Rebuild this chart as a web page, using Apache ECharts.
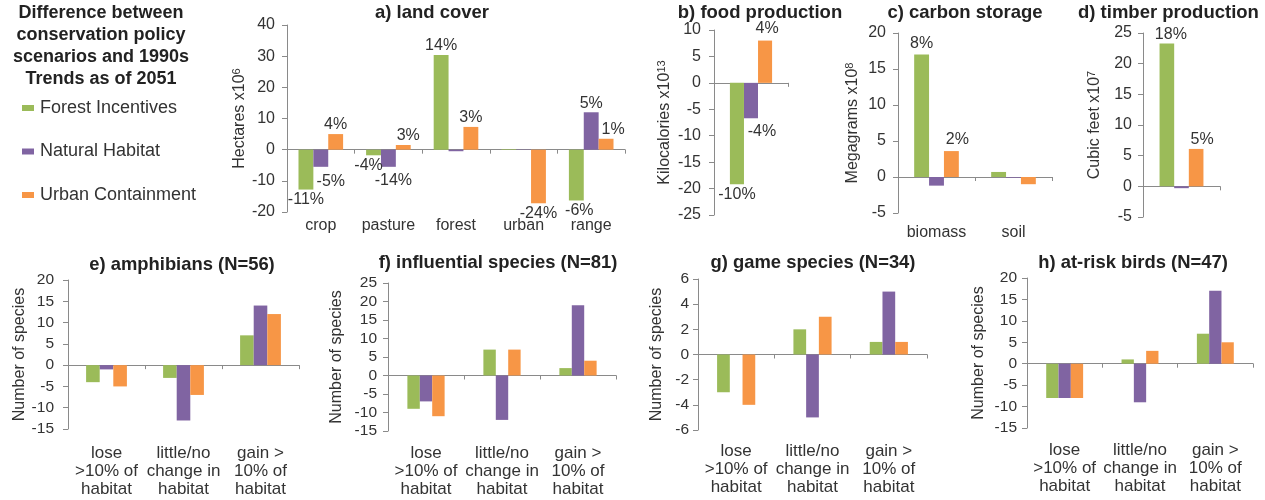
<!DOCTYPE html>
<html><head><meta charset="utf-8">
<script src="https://cdn.jsdelivr.net/npm/echarts/dist/echarts.min.js"></script>
<style>html,body{margin:0;padding:0;background:#fff}#c{width:1265px;height:500px}</style>
</head><body><div id="c"></div>
<script>
// ---------- data ----------
const scenarios = ['Forest Incentives', 'Natural Habitat', 'Urban Containment'];

const landCats = ['crop', 'pasture', 'forest', 'urban', 'range'];
const landFI = [-12.8, -1.8, 30.4, 0.2, -16.3];
const landNH = [-5.5, -5.5, -0.5, 0.1, 12.0];
const landUC = [5.0, 1.5, 7.3, -17.2, 3.5];
const landFIpct = ['-11%', '-4%', '14%', '', '-6%'];
const landNHpct = ['-5%', '-14%', '', '', '5%'];
const landUCpct = ['4%', '3%', '3%', '-24%', '1%'];

const foodCats = [''];
const foodFI = [-19.2];
const foodNH = [-6.7];
const foodUC = [8.0];
const foodFIpct = ['-10%'];
const foodNHpct = ['-4%'];
const foodUCpct = ['4%'];

const carbonCats = ['biomass', 'soil'];
const carbonFI = [17.0, 0.7];
const carbonNH = [-1.2, -0.1];
const carbonUC = [3.6, -1.0];
const carbonFIpct = ['8%', ''];
const carbonNHpct = ['', ''];
const carbonUCpct = ['2%', ''];

const timberCats = [''];
const timberFI = [23.3];
const timberNH = [-0.3];
const timberUC = [6.1];
const timberFIpct = ['18%'];
const timberNHpct = [''];
const timberUCpct = ['5%'];

const habitatCats = ['lose\n>10% of\nhabitat', 'little/no\nchange in\nhabitat', 'gain >\n10% of\nhabitat'];
const amphFI = [-4, -3, 7];
const amphNH = [-1, -13, 14];
const amphUC = [-5, -7, 12];
const inflFI = [-9, 7, 2];
const inflNH = [-7, -12, 19];
const inflUC = [-11, 7, 4];
const gameFI = [-3, 2, 1];
const gameNH = [0, -5, 5];
const gameUC = [-4, 3, 1];
const birdFI = [-8, 1, 7];
const birdNH = [-8, -9, 17];
const birdUC = [-8, 3, 5];

const legendTitle = 'Difference between\nconservation policy\nscenarios and 1990s\nTrends as of 2051';

const panels = [
  {key: 'a', title: 'a) land cover', cats: landCats, vals: [landFI, landNH, landUC], pct: [landFIpct, landNHpct, landUCpct], yName: ['Hectares x10', '6'], min: -20, max: 40, step: 10},
  {key: 'b', title: 'b) food production', cats: foodCats, vals: [foodFI, foodNH, foodUC], pct: [foodFIpct, foodNHpct, foodUCpct], yName: ['Kilocalories x10', '13'], min: -25, max: 10, step: 5},
  {key: 'c', title: 'c) carbon storage', cats: carbonCats, vals: [carbonFI, carbonNH, carbonUC], pct: [carbonFIpct, carbonNHpct, carbonUCpct], yName: ['Megagrams x10', '8'], min: -5, max: 20, step: 5},
  {key: 'd', title: 'd) timber production', cats: timberCats, vals: [timberFI, timberNH, timberUC], pct: [timberFIpct, timberNHpct, timberUCpct], yName: ['Cubic feet x10', '7'], min: -5, max: 25, step: 5},
  {key: 'e', title: 'e) amphibians (N=56)', cats: habitatCats, vals: [amphFI, amphNH, amphUC], pct: null, yName: ['Number of species', ''], min: -15, max: 20, step: 5},
  {key: 'f', title: 'f) influential species (N=81)', cats: habitatCats, vals: [inflFI, inflNH, inflUC], pct: null, yName: ['Number of species', ''], min: -15, max: 25, step: 5},
  {key: 'g', title: 'g) game species (N=34)', cats: habitatCats, vals: [gameFI, gameNH, gameUC], pct: null, yName: ['Number of species', ''], min: -6, max: 6, step: 2},
  {key: 'h', title: 'h) at-risk birds (N=47)', cats: habitatCats, vals: [birdFI, birdNH, birdUC], pct: null, yName: ['Number of species', ''], min: -15, max: 20, step: 5}
];

// ---------- layout / style ----------
const colors = ['#9BBB59', '#8064A2', '#F79646'];
const FONT = '"Liberation Sans", Arial, sans-serif';
const AX = '#8a8a8a';
const TXT = '#333';

const layout = {
  a: {grid: {left: 287, top: 25, width: 338, height: 187}, tx: 432, ty: 3, ta: 'center', ts: 18.5, nameGap: 38, catMargin: 6, catSize: 16, catLH: 16, gap: '34%', labSize: 16, labMargin: 12},
  b: {grid: {left: 714, top: 30, width: 74, height: 185}, tx: 760, ty: 3, ta: 'center', ts: 18.5, nameGap: 40, catMargin: 6, catSize: 16, catLH: 16, gap: '43%', labSize: 16, labMargin: 13},
  c: {grid: {left: 898, top: 33, width: 154, height: 180}, tx: 965, ty: 3, ta: 'center', ts: 18.5, nameGap: 36, catMargin: 12, catSize: 16, catLH: 16, gap: '42%', labSize: 16, labMargin: 12},
  d: {grid: {left: 1143, top: 33, width: 77, height: 184}, tx: 1078, ty: 3, ta: 'left', ts: 18.5, nameGap: 39, catMargin: 6, catSize: 16, catLH: 16, gap: '43%', labSize: 16, labMargin: 11},
  e: {grid: {left: 68, top: 280, width: 231, height: 149}, tx: 182, ty: 256, ta: 'center', ts: 18.4, nameGap: 37, catMargin: 15, catSize: 17, catLH: 18, gap: '47%', labSize: 15.5, labMargin: 14},
  f: {grid: {left: 388, top: 283, width: 228, height: 148}, tx: 498, ty: 254, ta: 'center', ts: 18.4, nameGap: 42, catMargin: 13, catSize: 17, catLH: 18, gap: '51%', labSize: 15.5, labMargin: 11},
  g: {grid: {left: 698, top: 279, width: 229, height: 151}, tx: 813, ty: 254, ta: 'center', ts: 18.4, nameGap: 32, catMargin: 12, catSize: 17, catLH: 18, gap: '50%', labSize: 15.5, labMargin: 9},
  h: {grid: {left: 1027, top: 278, width: 226, height: 150}, tx: 1133, ty: 254, ta: 'center', ts: 18.4, nameGap: 39, catMargin: 13, catSize: 17, catLH: 18, gap: '51%', labSize: 15.5, labMargin: 10}
};

// label nudges: panel-series-index -> [dx, dy]
const labelOffsets = {
  'a-1-0': [10, 5], 'a-0-1': [-5, 0], 'a-1-1': [5, 4], 'a-2-1': [5, 0], 'a-2-4': [7, 0], 'a-0-4': [3, 0],
  'b-1-0': [11, 3], 'b-2-0': [2, -3],
  'c-0-0': [0, -2], 'c-2-0': [6, -2],
  'd-0-0': [4, 0], 'd-2-0': [6, 0]
};

const option = {
  animation: false,
  backgroundColor: '#fff',
  textStyle: {fontFamily: FONT},
  title: [{
    text: legendTitle, left: 101, top: 2, textAlign: 'center', padding: 0,
    textStyle: {fontSize: 18, fontWeight: 'bold', lineHeight: 22, color: '#222', fontFamily: FONT}
  }],
  legend: {
    orient: 'vertical', left: 17, top: 94, itemWidth: 12, itemHeight: 6, itemGap: 25.5,
    icon: 'rect', data: scenarios, selectedMode: false,
    textStyle: {fontSize: 18, color: TXT, fontFamily: FONT, padding: [0, 0, 0, 1]}
  },
  grid: [], xAxis: [], yAxis: [], series: []
};

panels.forEach((p, i) => {
  const L = layout[p.key];
  option.title.push({
    text: p.title, left: L.tx, top: L.ty, textAlign: L.ta, padding: 0,
    textStyle: {fontSize: L.ts, fontWeight: 'bold', color: '#222', fontFamily: FONT}
  });
  option.grid.push(Object.assign({containLabel: false}, L.grid));
  option.xAxis.push({
    type: 'category', gridIndex: i, data: p.cats, position: 'top',
    axisLine: {show: true, onZero: true, lineStyle: {color: AX, width: 1}},
    axisTick: {show: true, inside: true, length: 4, lineStyle: {color: AX}},
    axisLabel: {show: false}, splitLine: {show: false}
  });
  option.xAxis.push({
    type: 'category', gridIndex: i, data: p.cats, position: 'bottom',
    axisLine: {show: false, onZero: false}, axisTick: {show: false},
    axisLabel: {show: true, interval: 0, margin: L.catMargin, fontSize: L.catSize, lineHeight: L.catLH, color: TXT, fontFamily: FONT},
    splitLine: {show: false}
  });
  const nm = p.yName[1] ? `{n|${p.yName[0]}}{s|${p.yName[1]}}` : `{n|${p.yName[0]}}`;
  option.yAxis.push({
    type: 'value', gridIndex: i, min: p.min, max: p.max, interval: p.step,
    name: nm, nameLocation: 'middle', nameGap: L.nameGap,
    nameTextStyle: {
      fontSize: 16, color: TXT, fontFamily: FONT,
      rich: {
        n: {fontSize: 16, lineHeight: 18, color: TXT, fontFamily: FONT},
        s: {fontSize: 11, lineHeight: 11, verticalAlign: 'top', color: TXT, fontFamily: FONT}
      }
    },
    axisLine: {show: true, lineStyle: {color: AX}},
    axisTick: {show: true, length: 5, lineStyle: {color: AX}},
    axisLabel: {fontSize: L.labSize, color: TXT, margin: L.labMargin, fontFamily: FONT},
    splitLine: {show: false}
  });
  p.vals.forEach((vals, s) => {
    option.series.push({
      type: 'bar', name: scenarios[s], xAxisIndex: 2 * i, yAxisIndex: i,
      barGap: '0%', barCategoryGap: L.gap, silent: true,
      itemStyle: {color: colors[s]},
      label: {
        show: !!p.pct, fontSize: 16, color: TXT, fontFamily: FONT,
        formatter: (params) => (p.pct ? p.pct[s][params.dataIndex] : '')
      },
      data: vals.map((v, k) => ({
        value: v,
        label: {
          position: v >= 0 ? 'top' : 'bottom',
          distance: v >= 0 ? 1 : 2,
          offset: labelOffsets[`${p.key}-${s}-${k}`] || [0, 0]
        }
      }))
    });
  });
});

const chart = echarts.init(document.getElementById('c'), null, {renderer: 'canvas'});
chart.setOption(option);
</script></body></html>
